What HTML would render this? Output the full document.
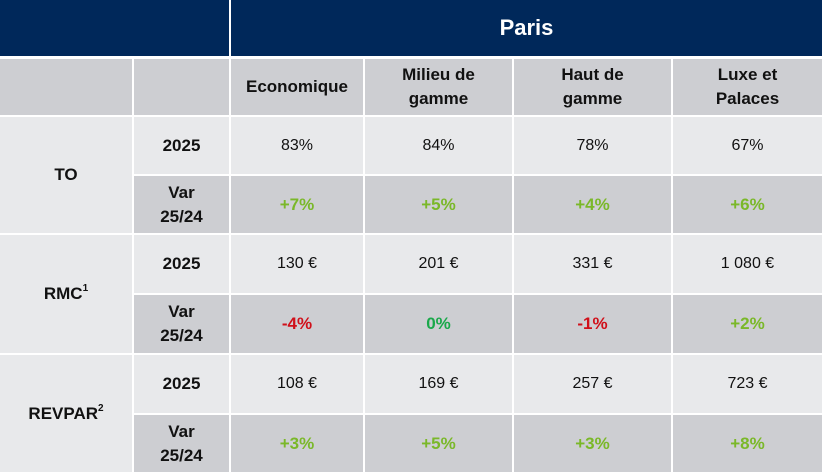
<!DOCTYPE html><html><head><style>
body{margin:0;width:822px;height:474px;background:#fff;font-family:"Liberation Sans",Arial,sans-serif;position:relative;overflow:hidden}
.c{position:absolute;display:flex;align-items:center;justify-content:center;text-align:center;color:#111;font-size:16px;line-height:24px}
.n{background:#00285a;color:#fff;font-weight:bold;font-size:22px}
.h{background:#cdced2;font-weight:bold;font-size:17px;line-height:24px}
.l{background:#e8e9eb}
.d{background:#cdced2}
.b{font-weight:bold;font-size:17px}
.g{color:#7ab829;font-weight:bold;font-size:17px}
.r{color:#d0101a;font-weight:bold;font-size:17px}
.z{color:#1aa84a;font-weight:bold;font-size:17px}
sup{font-size:10px;line-height:0;vertical-align:8px}
</style></head><body>
<div class="c n" style="left:0;top:0;width:229px;height:56px"></div>
<div class="c n" style="left:231px;top:0;width:591px;height:56px;padding-left:0">Paris</div>

<div class="c h" style="left:0;top:59px;width:132px;height:56px"></div>
<div class="c h" style="left:134px;top:59px;width:95px;height:56px"></div>
<div class="c h" style="left:231px;top:59px;width:132px;height:56px">Economique</div>
<div class="c h" style="left:365px;top:59px;width:147px;height:56px">Milieu de<br>gamme</div>
<div class="c h" style="left:514px;top:59px;width:157px;height:56px">Haut de<br>gamme</div>
<div class="c h" style="left:673px;top:59px;width:149px;height:56px">Luxe et<br>Palaces</div>

<!-- TO -->
<div class="c l b" style="left:0;top:117px;width:132px;height:116px">TO</div>
<div class="c l b" style="left:134px;top:117px;width:95px;height:57px">2025</div>
<div class="c l" style="left:231px;top:117px;width:132px;height:57px">83%</div>
<div class="c l" style="left:365px;top:117px;width:147px;height:57px">84%</div>
<div class="c l" style="left:514px;top:117px;width:157px;height:57px">78%</div>
<div class="c l" style="left:673px;top:117px;width:149px;height:57px">67%</div>
<div class="c d b" style="left:134px;top:176px;width:95px;height:57px">Var<br>25/24</div>
<div class="c d g" style="left:231px;top:176px;width:132px;height:57px">+7%</div>
<div class="c d g" style="left:365px;top:176px;width:147px;height:57px">+5%</div>
<div class="c d g" style="left:514px;top:176px;width:157px;height:57px">+4%</div>
<div class="c d g" style="left:673px;top:176px;width:149px;height:57px">+6%</div>

<!-- RMC -->
<div class="c l b" style="left:0;top:235px;width:132px;height:118px"><span>RMC<sup>1</sup></span></div>
<div class="c l b" style="left:134px;top:235px;width:95px;height:58px">2025</div>
<div class="c l" style="left:231px;top:235px;width:132px;height:58px">130 €</div>
<div class="c l" style="left:365px;top:235px;width:147px;height:58px">201 €</div>
<div class="c l" style="left:514px;top:235px;width:157px;height:58px">331 €</div>
<div class="c l" style="left:673px;top:235px;width:149px;height:58px">1 080 €</div>
<div class="c d b" style="left:134px;top:295px;width:95px;height:58px">Var<br>25/24</div>
<div class="c d r" style="left:231px;top:295px;width:132px;height:58px">-4%</div>
<div class="c d z" style="left:365px;top:295px;width:147px;height:58px">0%</div>
<div class="c d r" style="left:514px;top:295px;width:157px;height:58px">-1%</div>
<div class="c d g" style="left:673px;top:295px;width:149px;height:58px">+2%</div>

<!-- REVPAR -->
<div class="c l b" style="left:0;top:355px;width:132px;height:117px"><span>REVPAR<sup>2</sup></span></div>
<div class="c l b" style="left:134px;top:355px;width:95px;height:58px">2025</div>
<div class="c l" style="left:231px;top:355px;width:132px;height:58px">108 €</div>
<div class="c l" style="left:365px;top:355px;width:147px;height:58px">169 €</div>
<div class="c l" style="left:514px;top:355px;width:157px;height:58px">257 €</div>
<div class="c l" style="left:673px;top:355px;width:149px;height:58px">723 €</div>
<div class="c d b" style="left:134px;top:415px;width:95px;height:57px">Var<br>25/24</div>
<div class="c d g" style="left:231px;top:415px;width:132px;height:57px">+3%</div>
<div class="c d g" style="left:365px;top:415px;width:147px;height:57px">+5%</div>
<div class="c d g" style="left:514px;top:415px;width:157px;height:57px">+3%</div>
<div class="c d g" style="left:673px;top:415px;width:149px;height:57px">+8%</div>
</body></html>
